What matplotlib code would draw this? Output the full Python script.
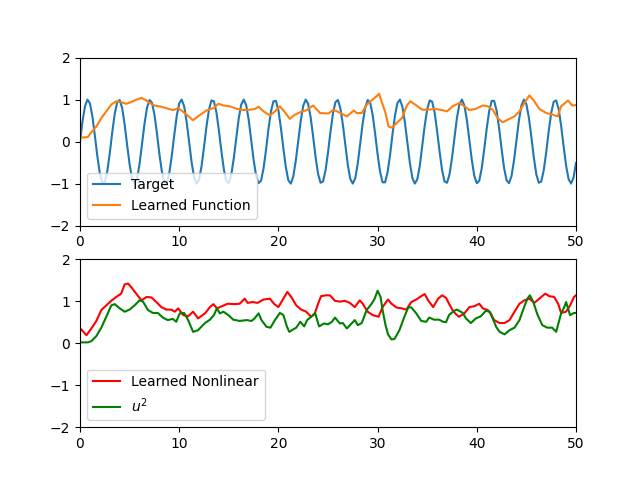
import numpy as np
import matplotlib
matplotlib.use('Agg')
import matplotlib.pyplot as plt

# Target signal, sampled every 0.25 on [0, 50]
t_target = np.arange(201) * 0.25
target = [
    0.00, 0.48, 0.84, 1.00, 0.91, 0.60, 0.14, -0.35, -0.76, -0.98, -0.96, -0.71, -0.28,
    0.22, 0.66, 0.94, 0.99, 0.80, 0.41, -0.08, -0.54, -0.88, -1.00, -0.88, -0.54, -0.07,
    0.42, 0.80, 0.99, 0.93, 0.65, 0.21, -0.29, -0.71, -0.96, -0.98, -0.75, -0.34,
    0.15, 0.61, 0.91, 1.00, 0.84, 0.47, -0.01, -0.49, -0.85, -1.00, -0.91, -0.59, -0.13,
    0.36, 0.76, 0.98, 0.96, 0.70, 0.27, -0.22, -0.66, -0.94, -0.99, -0.79, -0.40,
    0.08, 0.55, 0.88, 1.00, 0.87, 0.53, 0.06, -0.43, -0.81, -0.99, -0.93, -0.64, -0.20,
    0.30, 0.72, 0.96, 0.97, 0.75, 0.33, -0.16, -0.61, -0.92, -1.00, -0.83, -0.46,
    0.02, 0.49, 0.85, 1.00, 0.90, 0.58, 0.12, -0.37, -0.77, -0.98, -0.95, -0.69, -0.26,
    0.23, 0.67, 0.94, 0.99, 0.79, 0.40, -0.09, -0.56, -0.89, -1.00, -0.87, -0.52, -0.05,
    0.44, 0.81, 0.99, 0.93, 0.64, 0.19, -0.30, -0.72, -0.97, -0.97, -0.74, -0.33,
    0.17, 0.62, 0.92, 1.00, 0.83, 0.46, -0.03, -0.50, -0.86, -1.00, -0.90, -0.58, -0.11,
    0.38, 0.77, 0.98, 0.95, 0.69, 0.25, -0.24, -0.68, -0.95, -0.98, -0.78, -0.39,
    0.10, 0.57, 0.89, 1.00, 0.86, 0.51, 0.04, -0.44, -0.82, -0.99, -0.93, -0.63, -0.18,
    0.31, 0.73, 0.97, 0.97, 0.73, 0.32, -0.18, -0.63, -0.92, -0.99, -0.82, -0.45,
    0.04, 0.51, 0.86, 1.00, 0.89, 0.57, 0.11, -0.38, -0.78, -0.98, -0.95, -0.68, -0.25,
    0.25, 0.68, 0.95, 0.98, 0.78, 0.38, -0.11, -0.57, -0.89, -1.00, -0.86, -0.51,
]

# Learned function u
t_u = [0, 0.8, 1.1, 1.65, 2.15, 2.65, 3.15, 3.65, 4.15, 4.65, 5.15, 5.7, 6.2, 6.7,
       7.0, 7.5, 8.2, 8.9, 9.4, 9.9, 10.55, 11.4, 12.0, 12.75, 13.45, 13.95, 14.45,
       15.1, 15.8, 16.45, 17.15, 17.65, 18.0, 18.5, 19.15, 19.65, 20.15, 20.65, 21.15,
       21.65, 22.2, 22.85, 23.5, 24.2, 25.05, 25.55, 26.25, 26.9, 27.6, 27.9, 28.4,
       28.9, 29.4, 29.9, 30.15, 30.4, 30.8, 31.1, 31.45, 31.95, 32.45, 32.95, 33.3,
       33.8, 34.5, 35.15, 35.8, 36.5, 37.0, 37.55, 38.25, 38.75, 39.25, 39.9, 40.6,
       41.1, 41.6, 42.1, 42.6, 43.1, 43.8, 44.3, 44.8, 45.3, 45.8, 46.3, 47.0, 47.65,
       48.15, 48.5, 49.2, 49.6, 50]
u = [0.09, 0.11, 0.21, 0.36, 0.56, 0.72, 0.88, 0.96, 0.94, 0.90, 0.94, 1.00, 1.04, 0.98,
     0.92, 0.86, 0.83, 0.78, 0.75, 0.80, 0.68, 0.51, 0.62, 0.74, 0.80, 0.90, 0.86,
     0.84, 0.78, 0.75, 0.76, 0.78, 0.83, 0.72, 0.62, 0.72, 0.84, 0.70, 0.54,
     0.64, 0.70, 0.75, 0.86, 0.68, 0.67, 0.76, 0.68, 0.60, 0.74, 0.68, 0.68,
     0.88, 0.98, 1.08, 1.14, 0.96, 0.68, 0.36, 0.33, 0.45, 0.56, 0.86, 0.96,
     0.88, 0.76, 0.76, 0.78, 0.75, 0.72, 0.84, 0.92, 0.84, 0.75, 0.78, 0.86,
     0.84, 0.76, 0.56, 0.46, 0.52, 0.60, 0.72, 0.92, 1.10, 0.96, 0.78, 0.68, 0.64,
     0.60, 0.84, 0.98, 0.86, 0.87]

# Learned nonlinear term
t_nl = [0, 0.65, 1.15, 1.65, 2.15, 2.65, 3.15, 3.65, 4.15, 4.5, 4.85, 5.15, 5.7, 6.2,
        6.7, 7.2, 7.7, 8.2, 8.7, 9.2, 9.55, 9.9, 10.4, 10.9, 11.4, 11.9, 12.6, 13.1,
        13.45, 13.8, 14.3, 14.9, 15.6, 16.1, 16.6, 16.9, 17.4, 17.9, 18.5, 19.15,
        19.55, 20.0, 20.5, 20.9, 21.3, 21.8, 22.3, 22.8, 23.3, 23.65, 24.0, 24.3,
        24.8, 25.2, 25.7, 26.2, 26.7, 27.2, 27.7, 28.2, 28.5, 29.0, 29.5, 30.1, 30.5,
        31.05, 31.4, 31.9, 32.4, 32.9, 33.4, 33.9, 34.4, 34.75, 35.1, 35.6, 36.1,
        36.5, 36.9, 37.2, 37.6, 37.9, 38.2, 38.75, 39.25, 39.75, 40.25, 40.6, 41.1,
        41.4, 41.75, 42.3, 42.8, 43.3, 43.8, 44.3, 44.8, 45.3, 45.8, 46.3, 46.9,
        47.3, 47.8, 48.2, 48.5, 49.0, 49.4, 49.8, 50.0]
nonlinear = [0.36, 0.19, 0.35, 0.53, 0.79, 0.90, 1.01, 1.10, 1.18, 1.40, 1.42, 1.34, 1.17, 1.02,
             1.10, 1.09, 0.98, 0.86, 0.80, 0.80, 0.75, 0.83, 0.67, 0.64, 0.75, 0.59, 0.71, 0.86,
             0.93, 0.83, 0.88, 0.94, 0.93, 0.94, 1.06, 0.96, 0.98, 0.96, 1.04, 1.06,
             0.94, 0.86, 1.06, 1.22, 1.10, 0.90, 0.80, 0.75, 0.63, 0.69, 0.94, 1.12,
             1.14, 1.14, 1.01, 0.99, 1.01, 0.96, 0.86, 1.02, 0.94, 0.75, 0.67, 0.63, 0.86,
             1.04, 0.94, 0.85, 0.83, 0.80, 0.98, 1.04, 1.12, 1.17, 1.02, 0.86, 1.06,
             1.14, 1.08, 0.94, 0.77, 0.69, 0.63, 0.71, 0.86, 0.88, 0.94, 0.83, 0.79,
             0.71, 0.55, 0.48, 0.48, 0.55, 0.75, 0.94, 1.02, 1.06, 0.96, 1.06, 1.18,
             1.12, 1.10, 0.94, 0.72, 0.75, 0.90, 1.10, 1.14]

# u squared
t_u2 = [0, 0.8, 1.15, 1.65, 2.15, 2.65, 3.15, 3.5, 4.0, 4.5, 5.0, 5.5, 6.0, 6.35, 6.85,
        7.35, 7.85, 8.35, 8.85, 9.35, 9.7, 10.05, 10.5, 10.9, 11.4, 11.9, 12.6, 13.1,
        13.5, 13.8, 14.1, 14.45, 14.95, 15.45, 16.1, 16.8, 17.3, 17.6, 18.0, 18.3,
        18.8, 19.2, 19.65, 20.15, 20.5, 20.85, 21.1, 21.5, 21.8, 22.2, 22.6, 22.9,
        23.3, 23.7, 24.1, 24.6, 25.0, 25.4, 25.7, 26.2, 26.5, 26.9, 27.3, 27.7, 28.0,
        28.4, 28.9, 29.4, 29.7, 30.0, 30.3, 30.5, 30.8, 31.05, 31.4, 31.7, 32.2, 32.7,
        33.1, 33.4, 33.9, 34.4, 34.9, 35.2, 35.7, 36.2, 36.6, 36.9, 37.2, 37.7, 38.0,
        38.6, 38.9, 39.4, 39.9, 40.4, 40.9, 41.3, 41.6, 41.95, 42.3, 42.8, 43.3, 43.8,
        44.3, 44.8, 45.1, 45.35, 45.7, 46.1, 46.6, 47.1, 47.6, 48.0, 48.5, 48.8, 49.0,
        49.4, 49.8, 50.0]
u2 = [0.02, 0.02, 0.05, 0.17, 0.37, 0.63, 0.90, 0.93, 0.83, 0.75, 0.80, 0.90, 1.02, 0.99, 0.79,
      0.72, 0.72, 0.61, 0.55, 0.58, 0.51, 0.71, 0.72, 0.55, 0.27, 0.31, 0.48, 0.56,
      0.67, 0.83, 0.71, 0.75, 0.67, 0.56, 0.53, 0.55, 0.53, 0.59, 0.71, 0.55,
      0.39, 0.37, 0.55, 0.72, 0.67, 0.40, 0.27, 0.33, 0.37, 0.51, 0.40, 0.55,
      0.63, 0.72, 0.40, 0.47, 0.45, 0.51, 0.61, 0.47, 0.48, 0.35, 0.45, 0.55, 0.43,
      0.48, 0.79, 0.94, 1.06, 1.25, 1.10, 0.79, 0.43, 0.21, 0.09, 0.10, 0.31, 0.63,
      0.86, 0.85, 0.71, 0.53, 0.51, 0.61, 0.56, 0.56, 0.51, 0.50, 0.67, 0.77, 0.80,
      0.72, 0.59, 0.48, 0.59, 0.64, 0.77, 0.75, 0.59, 0.39, 0.27, 0.21, 0.31, 0.37,
      0.55, 0.88, 1.06, 1.14, 0.98, 0.69, 0.43, 0.37, 0.37, 0.27, 0.71, 0.85, 0.98,
      0.67, 0.72, 0.72]

fig, (ax1, ax2) = plt.subplots(2, 1, figsize=(6.4, 4.8), dpi=100)

ax1.plot(t_target, target, label='Target')
ax1.plot(t_u, u, label='Learned Function')
ax1.set_xlim(0, 50)
ax1.set_ylim(-2, 2)
ax1.legend(loc='lower left')

ax2.plot(t_nl, nonlinear, 'r', label='Learned Nonlinear')
ax2.plot(t_u2, u2, 'g', label='$u^2$')
ax2.set_xlim(0, 50)
ax2.set_ylim(-2, 2)
ax2.legend(loc='lower left')

plt.savefig('out.png')
